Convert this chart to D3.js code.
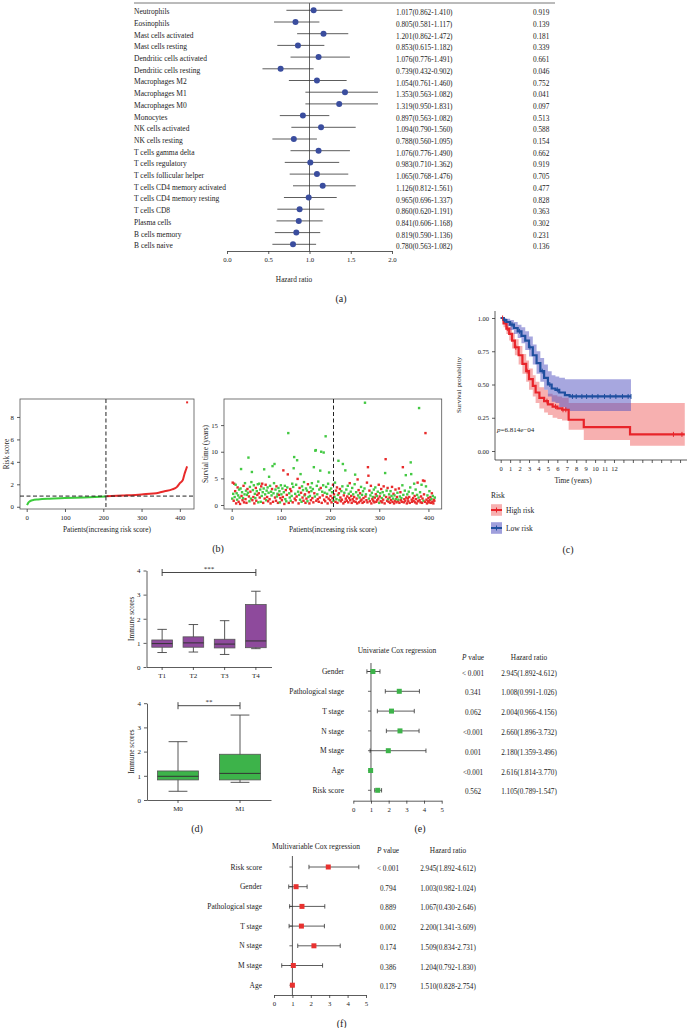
<!DOCTYPE html>
<html><head><meta charset="utf-8">
<script src="https://cdn.jsdelivr.net/npm/d3@7"></script>
<style>
body{margin:0;background:#fff}
svg{display:block}
text{font-family:"Liberation Serif","DejaVu Serif",serif;fill:#222}
</style>
</head><body>
<svg id="c" width="688" height="1028"></svg>
<script>
// ---------------- DATA ----------------
const cells = ["Neutrophils","Eosinophils","Mast cells activated","Mast cells resting","Dendritic cells activated","Dendritic cells resting","Macrophages M2","Macrophages M1","Macrophages M0","Monocytes","NK cells activated","NK cells resting","T cells gamma delta","T cells regulatory","T cells follicular helper","T cells CD4 memory activated","T cells CD4 memory resting","T cells CD8","Plasma cells","B cells memory","B cells naive"];
const cellHR  = [1.05,0.83,1.17,0.86,1.11,0.65,1.09,1.43,1.36,0.92,1.14,0.81,1.11,1.01,1.09,1.16,0.99,0.88,0.87,0.84,0.80];
const cellLo  = [0.72,0.57,0.85,0.61,0.77,0.43,0.75,0.95,0.95,0.64,0.78,0.55,0.77,0.70,0.76,0.80,0.69,0.61,0.60,0.58,0.55];
const cellHi  = [1.40,1.12,1.47,1.18,1.49,1.05,1.45,1.83,1.83,1.24,1.56,1.09,1.49,1.36,1.47,1.56,1.33,1.18,1.16,1.13,1.08];
const cellHRText = ["1.017(0.862-1.410)","0.805(0.581-1.117)","1.201(0.862-1.472)","0.853(0.615-1.182)","1.076(0.776-1.491)","0.739(0.432-0.902)","1.054(0.761-1.460)","1.353(0.563-1.082)","1.319(0.950-1.831)","0.897(0.563-1.082)","1.094(0.790-1.560)","0.788(0.560-1.095)","1.076(0.776-1.490)","0.983(0.710-1.362)","1.065(0.768-1.476)","1.126(0.812-1.561)","0.965(0.696-1.337)","0.860(0.620-1.191)","0.841(0.606-1.168)","0.819(0.590-1.136)","0.780(0.563-1.082)"];
const cellP = ["0.919","0.139","0.181","0.339","0.661","0.046","0.752","0.041","0.097","0.513","0.588","0.154","0.662","0.919","0.705","0.477","0.828","0.363","0.302","0.231","0.136"];
const hrTicks = [0,0.5,1,1.5,2];

// risk score curve (patient index, score)
const riskLow  = [[1,0.15],[4,0.35],[8,0.48],[15,0.58],[30,0.65],[60,0.72],[100,0.77],[150,0.83],[207,0.92]];
const riskHigh = [[208,0.93],[250,1.0],[300,1.1],[345,1.25],[360,1.38],[380,1.55],[392,1.75],[400,2.1],[408,2.4],[412,2.9],[416,3.3],[419,3.6]];
const riskOutlier = [[419,9.3]];
const riskCut = 207, riskCutScore = 0.95;

// survival time per patient (1..413) and status (1 dead / 0 alive)
const survTime = [
1.2,4.2,2.1,0.8,4.0,1.5,2.6,3.8,0.3,2.2,1.0,3.3,1.8,0.6,2.9,1.4,0.2,3.1,6.75,1.7,
2.4,0.9,1.3,3.6,0.5,2.0,4.1,1.1,2.7,0.4,1.9,3.0,2.3,8.9,1.6,0.7,3.4,2.5,1.2,4.3,
6.2,0.9,2.8,1.5,3.7,0.3,2.1,1.3,3.2,0.8,2.6,1.9,3.9,0.5,2.2,4.0,1.4,2.9,0.6,3.5,
1.7,4.0,2.4,0.4,3.1,6.7,1.2,2.0,3.8,0.9,2.7,1.5,3.3,0.7,2.3,5.3,1.1,3.6,0.3,2.5,
1.8,3.0,7.3,0.6,2.2,4.1,7.7,1.4,2.9,0.8,3.5,1.6,2.1,0.4,3.2,1.9,2.6,0.5,1.3,3.7,
2.0,0.9,3.1,1.5,6.5,2.4,0.2,3.6,1.1,2.8,0.7,1.9,3.3,5.75,13.5,0.4,2.2,1.4,3.0,0.8,
2.6,1.7,4.0,0.5,3.4,6.9,9.0,1.2,2.1,0.9,3.8,1.6,8.4,4.9,2.5,0.3,1.9,3.2,1.0,5.8,
2.3,0.6,3.5,1.4,2.8,0.8,4.3,1.8,2.0,0.4,3.1,1.2,2.7,0.7,3.9,1.5,2.4,0.3,1.7,3.3,
0.9,2.6,4.1,1.3,3.0,0.5,7.1,2.2,1.6,10.2,10.3,0.8,3.6,2.0,1.1,4.4,0.6,2.9,1.4,6.45,
3.2,10.0,0.4,2.5,1.8,3.7,9.85,1.0,2.3,0.7,12.9,3.4,1.5,2.1,0.3,4.0,1.2,6.1,2.8,0.9,
1.7,3.1,0.5,2.4,1.3,3.8,0.8,2.0,1.5,4.2,0.6,2.7,1.1,3.3,0.4,1.9,8.3,2.2,0.9,3.0,
1.4,0.7,2.6,1.0,3.5,7.7,0.3,1.8,2.3,0.6,6.5,1.2,2.9,0.8,1.6,3.6,0.5,2.1,1.3,4.1,
0.9,2.5,1.7,0.4,3.2,1.1,2.0,0.7,1.5,3.9,5.7,0.6,2.4,1.2,0.3,4.8,1.8,2.8,0.5,1.4,
2.2,0.8,3.4,1.0,1.9,0.4,2.6,1.3,0.6,3.1,19.2,1.6,2.0,0.9,4.2,0.5,7.1,5.5,1.2,2.7,
0.7,1.8,3.6,0.3,2.3,1.1,1.5,0.8,2.9,0.5,1.4,3.3,2.0,0.6,1.7,0.9,2.5,1.2,3.8,0.4,
1.6,2.2,0.7,3.0,1.3,0.5,2.4,1.0,3.5,1.8,0.3,6.0,8.6,1.5,2.7,0.8,3.2,1.1,0.6,2.0,
1.4,0.4,2.6,0.9,1.7,3.4,0.6,1.2,2.1,0.3,1.8,0.8,2.9,1.1,0.5,1.5,2.3,0.7,1.0,3.1,
0.4,1.6,2.4,0.9,1.3,0.6,3.7,7.1,1.9,0.5,1.1,2.7,0.8,5.6,1.4,0.3,2.0,1.2,0.7,2.5,
1.5,0.4,3.3,8.0,5.8,1.0,0.6,2.2,1.3,0.8,4.0,1.7,0.5,2.9,1.1,0.3,1.9,4.2,0.7,1.4,
18.2,0.9,2.4,0.5,1.6,3.8,0.4,1.2,4.6,0.8,2.0,4.5,0.6,13.5,3.5,1.0,0.3,1.8,0.7,1.3,
0.5,2.6,0.9,1.5,0.4,1.1,2.2,0.6,1.7,0.3,1.0,0.8,1.4];
const survDead = [
0,1,0,1,1,0,1,0,1,0,0,1,0,1,0,0,1,0,0,1,
0,1,0,1,1,0,0,1,0,1,0,1,0,0,1,0,0,1,0,0,
0,1,0,1,0,1,0,0,1,1,0,1,0,0,1,0,1,0,0,1,
0,1,0,1,0,0,1,0,1,0,0,1,0,1,0,0,1,0,1,0,
0,1,0,1,0,0,0,1,0,1,1,0,0,1,0,1,0,0,1,0,
0,1,0,1,1,0,1,0,0,1,0,1,0,1,0,1,0,0,1,0,
1,0,0,1,0,0,0,1,0,1,0,1,0,1,0,1,0,1,0,0,
1,0,0,1,0,1,0,0,1,1,0,1,0,0,1,0,1,1,0,0,
1,0,0,1,0,1,0,1,0,0,0,1,0,0,1,0,1,0,1,0,
1,0,1,0,1,0,0,1,0,1,0,0,1,0,1,0,1,0,0,1,
1,0,1,0,1,1,0,1,0,0,1,1,0,1,1,0,0,1,0,1,
1,1,0,1,0,0,1,1,0,1,0,1,0,1,1,0,1,0,1,1,
1,0,1,1,0,1,0,1,1,0,0,1,0,1,1,1,0,1,1,0,
1,1,0,1,0,1,0,1,1,0,0,1,0,1,1,1,1,1,0,1,
1,0,1,1,0,1,0,1,0,1,1,0,1,1,0,1,0,1,1,0,
1,0,1,1,0,1,0,1,1,0,1,0,1,1,0,1,1,0,1,0,
1,1,0,1,0,1,1,0,1,1,0,1,1,0,1,1,0,1,0,1,
1,0,1,1,0,1,0,1,0,1,1,0,1,0,1,1,0,1,1,0,
1,1,0,0,0,1,1,0,1,1,0,1,1,0,1,1,0,1,1,0,
0,1,0,1,1,0,1,1,1,0,1,1,1,1,0,1,1,0,1,1,
1,0,1,1,1,0,1,1,0,1,1,1,0];
const patientTicks = [0,100,200,300,400];
const riskTicks = [0,2,4,6,8];
const survTicks = [0,5,10,15];

// Kaplan-Meier (step times, survival, lower CI, upper CI)
const kmLowT  = [0,0.3,0.6,1.0,1.4,1.8,2.2,2.6,3.0,3.4,3.8,4.2,4.6,5.0,5.4,5.8,6.2,6.8,7.3,13.8];
const kmLowS  = [1,0.985,0.97,0.95,0.925,0.90,0.865,0.83,0.78,0.72,0.66,0.60,0.55,0.50,0.47,0.46,0.44,0.42,0.41,0.41];
const kmLowLo = [1,0.96,0.94,0.91,0.88,0.85,0.81,0.76,0.71,0.65,0.58,0.52,0.46,0.41,0.37,0.36,0.33,0.31,0.30,0.30];
const kmLowHi = [1,1.0,0.995,0.985,0.97,0.95,0.93,0.90,0.86,0.80,0.75,0.70,0.65,0.60,0.57,0.56,0.55,0.54,0.54,0.54];
const kmHighT  = [0,0.3,0.6,0.9,1.2,1.5,1.9,2.3,2.7,3.0,3.4,3.7,4.1,4.6,5.0,5.5,6.0,6.5,7.2,8.8,13.7,19.5];
const kmHighS  = [1,0.96,0.92,0.88,0.83,0.78,0.72,0.655,0.60,0.54,0.49,0.44,0.40,0.375,0.35,0.334,0.32,0.31,0.235,0.18,0.125,0.125];
const kmHighLo = [1,0.93,0.88,0.83,0.77,0.72,0.65,0.58,0.52,0.46,0.41,0.36,0.32,0.29,0.27,0.25,0.24,0.23,0.16,0.083,0.04,0.04];
const kmHighHi = [1,0.99,0.96,0.93,0.89,0.84,0.79,0.73,0.68,0.62,0.57,0.52,0.48,0.46,0.43,0.42,0.41,0.40,0.36,0.36,0.36,0.36];
const censorLow  = [0.4,1.2,2.0,3.1,4.4,5.2,6.0,7.6,8.0,8.6,9.1,9.7,10.3,11.0,11.6,12.2,12.9,13.5,13.8];
const censorHigh = [0.2,0.7,1.6,2.8,4.9,5.8,6.6,6.9,18.3,19.2];
const kmTimeTicks = d3.range(0,20);
const kmSurvTicks = [0,0.25,0.5,0.75,1];

// boxplots
const tStages = ["T1","T2","T3","T4"];
const tBox = [ // low, q1, median, q3, high
  [0.60,0.82,0.97,1.12,1.56],
  [0.62,0.82,1.00,1.25,1.76],
  [0.52,0.79,0.95,1.15,1.92],
  [0.76,0.80,1.08,2.59,3.14]];
const mStages = ["M0","M1"];
const mBox = [
  [0.36,0.83,0.98,1.20,2.41],
  [0.73,0.83,1.10,1.89,3.51]];
const immuneTicks = [0,1,2,3,4];

// Cox regression
const uniLabels = ["Gender","Pathological stage","T stage","N stage","M stage","Age","Risk score"];
const uniHR = [1.11,2.60,2.16,2.64,1.98,0.98,1.38];
const uniLo = [0.77,1.81,1.36,1.87,0.95,0.93,1.21];
const uniHi = [1.51,3.74,3.45,3.72,4.11,1.03,1.60];
const uniP  = ["< 0.001","0.341","0.062","<0.001","0.001","<0.001","0.562"];
const uniHRText = ["2.945(1.892-4.612)","1.008(0.991-1.026)","2.004(0.966-4.156)","2.660(1.896-3.732)","2.180(1.359-3.496)","2.616(1.814-3.770)","1.105(0.789-1.547)"];
const multiLabels = ["Risk score","Gender","Pathological stage","T stage","N stage","M stage","Age"];
const multiHR = [2.95,1.20,1.52,1.49,2.17,1.05,1.00];
const multiLo = [1.90,0.80,0.85,0.82,1.29,0.42,0.97];
const multiHi = [4.61,1.80,2.76,2.74,3.60,2.64,1.03];
const multiP  = ["< 0.001","0.794","0.889","0.002","0.174","0.386","0.179"];
const multiHRText = ["2.945(1.892-4.612)","1.003(0.982-1.024)","1.067(0.430-2.646)","2.200(1.341-3.609)","1.509(0.834-2.731)","1.204(0.792-1.830)","1.510(0.828-2.754)"];
const coxTicks = [0,1,2,3,4,5];

// ---------------- DRAW ----------------
const svg = d3.select("#c");
const AX = "#333";
const intFmt = d3.format("d");
function styleAxis(g, fs){
  g.selectAll("path,line").attr("stroke",AX).attr("stroke-width",0.8);
  g.selectAll("text").style("font-size",fs+"px").attr("fill","#222");
}
function txt(x,y,s,fs,anchor){
  return svg.append("text").attr("x",x).attr("y",y).attr("dy","0.35em")
    .attr("text-anchor",anchor||"start").style("font-size",fs+"px").text(s);
}

// ===== (a) forest plot of immune cells =====
const xa = d3.scaleLinear().domain([0,2]).range([227,392]);
const rowA = i => 10.3 + i*11.7;
svg.append("line").attr("x1",134).attr("x2",555).attr("y1",3).attr("y2",3).attr("stroke","#777").attr("stroke-width",1);
svg.append("line").attr("x1",xa(1)).attr("x2",xa(1)).attr("y1",3).attr("y2",251).attr("stroke","#666").attr("stroke-width",1);
const ga = svg.append("g");
ga.selectAll("line.ci").data(cells).join("line").attr("class","ci")
  .attr("x1",(d,i)=>xa(cellLo[i])).attr("x2",(d,i)=>xa(cellHi[i]))
  .attr("y1",(d,i)=>rowA(i)).attr("y2",(d,i)=>rowA(i)).attr("stroke","#333").attr("stroke-width",0.8);
ga.selectAll("circle").data(cells).join("circle")
  .attr("cx",(d,i)=>xa(cellHR[i])).attr("cy",(d,i)=>rowA(i)).attr("r",3).attr("fill","#3a4d9e");
ga.selectAll("text.lab").data(cells).join("text").attr("class","lab")
  .attr("x",134).attr("y",(d,i)=>rowA(i)+1.3).attr("dy","0.35em").style("font-size","7.5px").text(d=>d);
ga.selectAll("text.hr").data(cellHRText).join("text").attr("class","hr")
  .attr("x",396).attr("y",(d,i)=>rowA(i)+2.5).attr("dy","0.35em").style("font-size","7.3px").text(d=>d);
ga.selectAll("text.p").data(cellP).join("text").attr("class","p")
  .attr("x",533).attr("y",(d,i)=>rowA(i)+2.5).attr("dy","0.35em").style("font-size","7.3px").text(d=>d);
const axA = svg.append("g").attr("transform","translate(0,251)")
  .call(d3.axisBottom(xa).tickValues(hrTicks).tickFormat(d3.format(".1f")).tickSizeInner(3).tickSizeOuter(0));
styleAxis(axA,6.8);
txt(294,279,"Hazard ratio",7.3,"middle");
txt(341,298,"(a)",10,"middle");

// ===== (b) risk score plot =====
const xr = d3.scaleLinear().domain([-17.5,437]).range([20,194]);
const yr = d3.scaleLinear().domain([-0.2,9.6]).range([509,399]);
svg.append("rect").attr("x",20).attr("y",399).attr("width",174).attr("height",110).attr("fill","none").attr("stroke","#555").attr("stroke-width",0.8);
const riskLine = d3.line().x(d=>xr(d[0])).y(d=>yr(d[1])).curve(d3.curveMonotoneX);
svg.append("path").attr("d",riskLine(riskLow)).attr("fill","none").attr("stroke","#3ccc3c").attr("stroke-width",2);
svg.append("path").attr("d",riskLine(riskHigh)).attr("fill","none").attr("stroke","#e82a2a").attr("stroke-width",2);
svg.selectAll("rect.ro").data(riskOutlier).join("rect").attr("class","ro")
  .attr("x",d=>xr(d[0])-1).attr("y",d=>yr(d[1])-1).attr("width",2).attr("height",2).attr("fill","#e82a2a");
svg.append("line").attr("x1",xr(riskCut)).attr("x2",xr(riskCut)).attr("y1",399).attr("y2",509)
  .attr("stroke","#222").attr("stroke-width",1).attr("stroke-dasharray","4,2.5");
svg.append("line").attr("x1",20).attr("x2",194).attr("y1",yr(riskCutScore)).attr("y2",yr(riskCutScore))
  .attr("stroke","#222").attr("stroke-width",1).attr("stroke-dasharray","4,2.5");
const axRx = svg.append("g").attr("transform","translate(0,509)")
  .call(d3.axisBottom(xr).tickValues(patientTicks).tickFormat(intFmt).tickSizeInner(3).tickSizeOuter(0));
axRx.select(".domain").remove(); styleAxis(axRx,6.8);
const axRy = svg.append("g").attr("transform","translate(20,0)")
  .call(d3.axisLeft(yr).tickValues(riskTicks).tickFormat(intFmt).tickSizeInner(3).tickSizeOuter(0));
axRy.select(".domain").remove(); styleAxis(axRy,6.8);
txt(107,529,"Patients(increasing risk score)",7.3,"middle");
svg.append("text").attr("transform","translate(6,454) rotate(-90)").attr("text-anchor","middle").attr("dy","0.35em").style("font-size","7.3px").text("Risk score");

// ===== (b) survival time scatter =====
const xs = d3.scaleLinear().domain([-15.7,427]).range([224,441.7]);
const ys = d3.scaleLinear().domain([-0.75,19.9]).range([509,399]);
svg.append("rect").attr("x",224).attr("y",399).attr("width",217.7).attr("height",110).attr("fill","none").attr("stroke","#555").attr("stroke-width",0.8);
svg.selectAll("rect.sp").data(survTime).join("rect").attr("class","sp")
  .attr("x",(d,i)=>xs(i+1)-1.2).attr("y",d=>ys(d)-1.2).attr("width",2.4).attr("height",2.4)
  .attr("fill",(d,i)=>survDead[i]?"#e82a2a":"#44c944");
svg.append("line").attr("x1",xs(riskCut)).attr("x2",xs(riskCut)).attr("y1",399).attr("y2",509)
  .attr("stroke","#222").attr("stroke-width",1).attr("stroke-dasharray","4,2.5");
const axSx = svg.append("g").attr("transform","translate(0,509)")
  .call(d3.axisBottom(xs).tickValues(patientTicks).tickFormat(intFmt).tickSizeInner(3).tickSizeOuter(0));
axSx.select(".domain").remove(); styleAxis(axSx,6.8);
const axSy = svg.append("g").attr("transform","translate(224,0)")
  .call(d3.axisLeft(ys).tickValues(survTicks).tickFormat(intFmt).tickSizeInner(3).tickSizeOuter(0));
axSy.select(".domain").remove(); styleAxis(axSy,6.8);
txt(333,529,"Patients(increasing risk score)",7.3,"middle");
svg.append("text").attr("transform","translate(205,454) rotate(-90)").attr("text-anchor","middle").attr("dy","0.35em").style("font-size","7.3px").text("Survial time (years)");
txt(218,548,"(b)",10,"middle");

// ===== (c) Kaplan-Meier =====
const xk = d3.scaleLinear().domain([0,1]).range([500.7,510.14]);
const yk = d3.scaleLinear().domain([0,1]).range([451,318]);
const band = d3.area().x(d=>xk(d.t)).y0(d=>yk(d.lo)).y1(d=>yk(d.hi)).curve(d3.curveStepAfter);
const step = d3.line().x(d=>xk(d.t)).y(d=>yk(d.s)).curve(d3.curveStepAfter);
const kmLow = kmLowT.map((t,i)=>({t,s:kmLowS[i],lo:kmLowLo[i],hi:kmLowHi[i]}));
const kmHigh = kmHighT.map((t,i)=>({t,s:kmHighS[i],lo:kmHighLo[i],hi:kmHighHi[i]}));
svg.append("path").attr("d",band(kmHigh)).attr("fill","#f07070").attr("fill-opacity",0.55);
svg.append("path").attr("d",band(kmLow)).attr("fill","#5050c0").attr("fill-opacity",0.5);
function survAt(arr,t){ let s=arr[0].s; arr.forEach(d=>{ if(d.t<=t) s=d.s; }); return s; }
svg.append("path").attr("d",step(kmHigh)).attr("fill","none").attr("stroke","#e8242a").attr("stroke-width",2.2);
svg.append("path").attr("d",step(kmLow)).attr("fill","none").attr("stroke","#1f4f9f").attr("stroke-width",2.2);
svg.selectAll("line.cl").data(censorLow).join("line").attr("class","cl")
  .attr("x1",d=>xk(d)).attr("x2",d=>xk(d)).attr("y1",d=>yk(survAt(kmLow,d))-2.5).attr("y2",d=>yk(survAt(kmLow,d))+2.5)
  .attr("stroke","#1f4f9f").attr("stroke-width",1);
svg.selectAll("line.ch").data(censorHigh).join("line").attr("class","ch")
  .attr("x1",d=>xk(d)).attr("x2",d=>xk(d)).attr("y1",d=>yk(survAt(kmHigh,d))-2.5).attr("y2",d=>yk(survAt(kmHigh,d))+2.5)
  .attr("stroke","#e8242a").attr("stroke-width",1);
const axKx = svg.append("g").attr("transform","translate(0,460)")
  .call(d3.axisBottom(xk).tickValues(kmTimeTicks).tickFormat(d=>d<=12?d:"").tickSizeInner(3).tickSizeOuter(0));
axKx.select(".domain").attr("d","M495,0H687");
styleAxis(axKx,6.5);
const axKy = svg.append("g").attr("transform","translate(495,0)")
  .call(d3.axisLeft(yk).tickValues(kmSurvTicks).tickFormat(d3.format(".2f")).tickSizeInner(3).tickSizeOuter(0));
axKy.select(".domain").attr("d","M0,311V460");
styleAxis(axKy,6.5);
svg.append("text").attr("transform","translate(458.5,385) rotate(-90)").attr("text-anchor","middle").attr("dy","0.35em").style("font-size","7px").text("Survival probability");
txt(573,480,"Time (years)",7.3,"middle");
const pt = svg.append("text").attr("x",497).attr("y",430).attr("dy","0.35em").style("font-size","7px");
pt.append("tspan").style("font-style","italic").text("p");
pt.append("tspan").text("=6.814e\u221204");
txt(491,495,"Risk",7.5,"start");
const legend = [["High risk","#f07070","#e8242a",510],["Low risk","#5050c0","#1f4f9f",528]];
legend.forEach(([lab,fill,col,y])=>{
  svg.append("rect").attr("x",491).attr("y",y-5.8).attr("width",11).attr("height",11.6).attr("fill",fill).attr("fill-opacity",0.55);
  svg.append("line").attr("x1",491).attr("x2",502).attr("y1",y).attr("y2",y).attr("stroke",col).attr("stroke-width",2);
  svg.append("line").attr("x1",496.5).attr("x2",496.5).attr("y1",y-2.5).attr("y2",y+2.5).attr("stroke",col).attr("stroke-width",1);
  txt(506,y,lab,7.5,"start");
});
txt(568,549,"(c)",10,"middle");

// ===== (d) boxplots =====
function boxPlot(cats, boxes, xRange, yRange, fill, sig, sigY){
  const x = d3.scaleBand().domain(cats).range(xRange);
  const y = d3.scaleLinear().domain([0,4]).range(yRange);
  const bw = x.bandwidth()*0.66;
  const g = svg.append("g");
  boxes.forEach((b,i)=>{
    const cx = x(cats[i]) + x.bandwidth()/2;
    g.append("line").attr("x1",cx).attr("x2",cx).attr("y1",y(b[0])).attr("y2",y(b[4])).attr("stroke","#444").attr("stroke-width",0.9);
    [b[0],b[4]].forEach(v=>g.append("line").attr("x1",cx-bw*0.23).attr("x2",cx+bw*0.23).attr("y1",y(v)).attr("y2",y(v)).attr("stroke","#444").attr("stroke-width",0.9));
    g.append("rect").attr("x",cx-bw/2).attr("y",y(b[3])).attr("width",bw).attr("height",y(b[1])-y(b[3])).attr("fill",fill).attr("stroke","#555").attr("stroke-width",0.8);
    g.append("line").attr("x1",cx-bw/2).attr("x2",cx+bw/2).attr("y1",y(b[2])).attr("y2",y(b[2])).attr("stroke","#333").attr("stroke-width",1);
  });
  const ax = svg.append("g").attr("transform",`translate(0,${yRange[0]})`)
    .call(d3.axisBottom(x).tickSizeInner(3).tickSizeOuter(0));
  styleAxis(ax,7);
  const ay = svg.append("g").attr("transform",`translate(${xRange[0]},0)`)
    .call(d3.axisLeft(y).tickValues(immuneTicks).tickFormat(intFmt).tickSizeInner(3).tickSizeOuter(0));
  styleAxis(ay,7);
  const x1 = x(sig[0])+x.bandwidth()/2, x2 = x(sig[1])+x.bandwidth()/2;
  g.append("line").attr("x1",x1).attr("x2",x2).attr("y1",sigY).attr("y2",sigY).attr("stroke","#333").attr("stroke-width",0.9);
  [x1,x2].forEach(xx=>g.append("line").attr("x1",xx).attr("x2",xx).attr("y1",sigY-3.5).attr("y2",sigY+3.5).attr("stroke","#333").attr("stroke-width",0.9));
  g.append("text").attr("x",(x1+x2)/2).attr("y",sigY-2).attr("text-anchor","middle").style("font-size","7px").text(sig[2]);
  svg.append("text").attr("transform",`translate(131.7,${(yRange[0]+yRange[1])/2}) rotate(-90)`).attr("text-anchor","middle").attr("dy","0.35em").style("font-size","7.3px").text("Immune scores");
}
boxPlot(tStages, tBox, [146.5,271.5], [667,570.5], "#8e4a9c", ["T1","T4","***"], 572.5);
boxPlot(mStages, mBox, [147,271], [800,703.2], "#3db34a", ["M0","M1","**"], 705.7);
txt(197,828,"(d)",10,"middle");

// ===== (e),(f) Cox regression forest plots =====
function coxPlot(o){
  const x = d3.scaleLinear().domain([0,5]).range(o.xr);
  const row = i => o.y0 + i*o.dy;
  const g = svg.append("g");
  g.append("line").attr("x1",x(1)).attr("x2",x(1)).attr("y1",o.refTop).attr("y2",o.axisY).attr("stroke","#444").attr("stroke-width",0.9);
  o.labels.forEach((lab,i)=>{
    const y = row(i);
    g.append("line").attr("x1",x(1)-3).attr("x2",x(1)).attr("y1",y).attr("y2",y).attr("stroke","#444").attr("stroke-width",0.8);
    g.append("line").attr("x1",x(o.lo[i])).attr("x2",x(o.hi[i])).attr("y1",y).attr("y2",y).attr("stroke","#333").attr("stroke-width",0.8);
    [o.lo[i],o.hi[i]].forEach(v=>g.append("line").attr("x1",x(v)).attr("x2",x(v)).attr("y1",y-2.2).attr("y2",y+2.2).attr("stroke","#333").attr("stroke-width",0.8));
    g.append("rect").attr("x",x(o.hr[i])-2.5).attr("y",y-2.5).attr("width",5).attr("height",5).attr("fill",o.col);
    g.append("text").attr("x",o.labX).attr("y",y).attr("dy","0.35em").attr("text-anchor","end").style("font-size","7.5px").text(lab);
    g.append("text").attr("x",o.pX).attr("y",y+1.5).attr("dy","0.35em").attr("text-anchor","middle").style("font-size","7.2px").text(o.p[i]);
    g.append("text").attr("x",o.hrX).attr("y",y+1.5).attr("dy","0.35em").attr("text-anchor","middle").style("font-size","7.2px").text(o.hrText[i]);
  });
  const ax = svg.append("g").attr("transform",`translate(0,${o.axisY})`)
    .call(d3.axisBottom(x).tickValues(coxTicks).tickFormat(intFmt).tickSizeInner(3).tickSizeOuter(0));
  styleAxis(ax,6.8);
  txt(o.titleX,o.titleY,o.title,7.5,"middle");
  const ph = svg.append("text").attr("x",o.pX).attr("y",o.headY).attr("dy","0.35em").attr("text-anchor","middle").style("font-size","7.3px");
  ph.append("tspan").style("font-style","italic").text("P");
  ph.append("tspan").text(" value");
  txt(o.hrX,o.headY,"Hazard ratio",7.3,"middle");
}
coxPlot({labels:uniLabels,hr:uniHR,lo:uniLo,hi:uniHi,p:uniP,hrText:uniHRText,col:"#3db34a",
  xr:[353.3,441.7],y0:671.5,dy:19.8,labX:344,refTop:663,axisY:800.7,pX:473,hrX:529,headY:657,
  title:"Univariate Cox regression",titleX:397,titleY:650.5});
txt(420,828,"(e)",10,"middle");
coxPlot({labels:multiLabels,hr:multiHR,lo:multiLo,hi:multiHi,p:multiP,hrText:multiHRText,col:"#e8312f",
  xr:[274,366],y0:867,dy:19.7,labX:262,refTop:856,axisY:995,pX:388,hrX:448,headY:850,
  title:"Multivariable Cox regression",titleX:316,titleY:846});
txt(341.7,1023,"(f)",10,"middle");
</script>
</body></html>
